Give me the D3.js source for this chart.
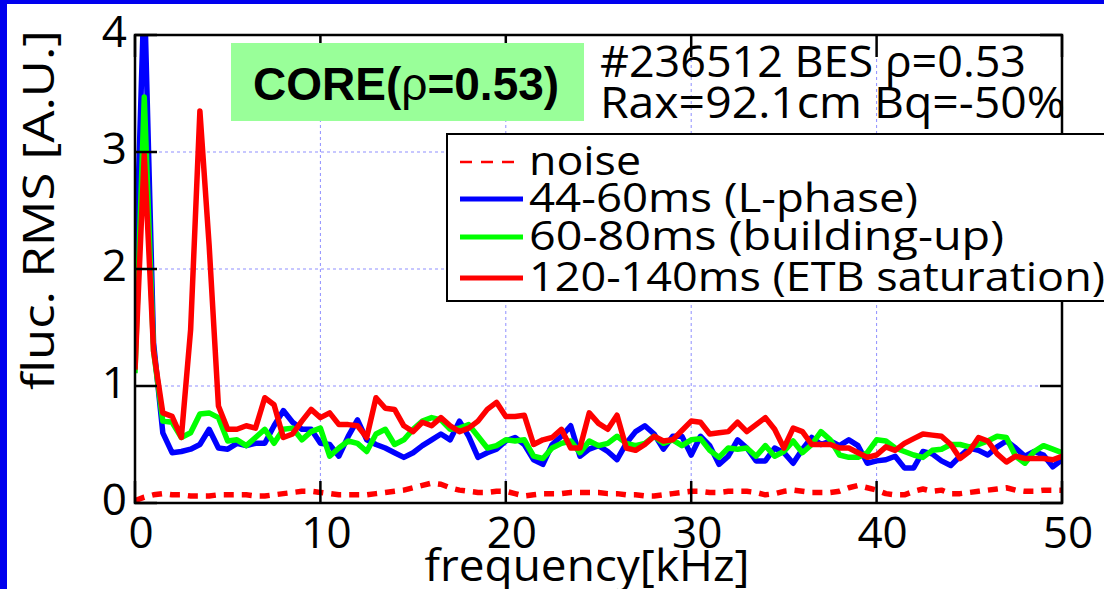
<!DOCTYPE html>
<html>
<head>
<meta charset="utf-8">
<script src="https://cdn.jsdelivr.net/npm/d3@7"></script>
<style>
    body { margin: 0; background: #ffffff; }
    svg { display: block; }
    .tick-label { font-family: "Open Sans", "Noto Sans", sans-serif; font-size: 44px; fill: #000; }
    .axis-label { font-family: "Open Sans", "Noto Sans", sans-serif; font-size: 44px; fill: #000; }
    .note-text { font-family: "Open Sans", "Noto Sans", sans-serif; font-size: 44px; fill: #000; }
    .legend-text { font-family: "Open Sans", "Noto Sans", sans-serif; font-size: 40px; fill: #000; }
    .core-text { font-family: "Liberation Sans", Arial, sans-serif; font-size: 46px; font-weight: bold; fill: #000; }
    .grid { stroke: #8f8fff; stroke-width: 1; stroke-dasharray: 3,3; fill: none; }
    .frame { stroke: #000; stroke-width: 2.5; fill: none; }
    .series { fill: none; stroke-width: 5.5; stroke-linejoin: round; }
</style>
</head>
<body>
<div id="chart"></div>
<script>

// **********************************************************
//                          Data
// **********************************************************

// frequency bins, 0.5 kHz apart from 0 to 50 kHz
const freq = d3.range(0, 50.25, 0.5);

const noise = [
    0.02, 0.05, 0.07, 0.08, 0.07, 0.07, 0.06, 0.06, 0.06, 0.07,
    0.07, 0.07, 0.07, 0.06, 0.06, 0.07, 0.08, 0.09, 0.10, 0.10,
    0.09, 0.08, 0.07, 0.07, 0.07, 0.07, 0.08, 0.09, 0.10, 0.11,
    0.13, 0.15, 0.17, 0.16, 0.13, 0.11, 0.10, 0.09, 0.09, 0.10,
    0.10, 0.08, 0.06, 0.07, 0.08, 0.08, 0.08, 0.09, 0.09, 0.09,
    0.09, 0.08, 0.08, 0.07, 0.07, 0.06, 0.06, 0.07, 0.08, 0.09,
    0.10, 0.10, 0.09, 0.09, 0.10, 0.10, 0.10, 0.09, 0.07, 0.08,
    0.10, 0.11, 0.10, 0.09, 0.09, 0.09, 0.10, 0.13, 0.15, 0.13,
    0.11, 0.08, 0.07, 0.07, 0.10, 0.12, 0.10, 0.11, 0.08, 0.08,
    0.09, 0.10, 0.11, 0.12, 0.13, 0.11, 0.10, 0.10, 0.11, 0.11,
    0.11
];

const lPhase = [
    1.78, 4.40, 1.37, 0.60, 0.43, 0.44, 0.46, 0.50, 0.63, 0.47,
    0.46, 0.51, 0.49, 0.51, 0.51, 0.66, 0.79, 0.69, 0.63, 0.63,
    0.51, 0.50, 0.40, 0.57, 0.71, 0.54, 0.50, 0.47, 0.43, 0.39,
    0.43, 0.49, 0.54, 0.59, 0.54, 0.70, 0.57, 0.39, 0.43, 0.46,
    0.53, 0.56, 0.50, 0.37, 0.33, 0.50, 0.57, 0.66, 0.40, 0.46,
    0.49, 0.44, 0.37, 0.51, 0.61, 0.66, 0.59, 0.46, 0.57, 0.57,
    0.41, 0.57, 0.49, 0.33, 0.40, 0.54, 0.47, 0.36, 0.36, 0.47,
    0.43, 0.34, 0.46, 0.56, 0.50, 0.53, 0.49, 0.54, 0.49, 0.34,
    0.36, 0.37, 0.40, 0.30, 0.30, 0.44, 0.42, 0.36, 0.32, 0.40,
    0.47, 0.45, 0.41, 0.48, 0.53, 0.47, 0.40, 0.44, 0.41, 0.31,
    0.37
];

const buildingUp = [
    1.11, 3.47, 1.30, 0.70, 0.69, 0.56, 0.60, 0.76, 0.77, 0.73,
    0.53, 0.54, 0.49, 0.56, 0.63, 0.51, 0.63, 0.64, 0.54, 0.61,
    0.64, 0.40, 0.47, 0.53, 0.51, 0.44, 0.59, 0.63, 0.50, 0.54,
    0.63, 0.70, 0.73, 0.71, 0.63, 0.64, 0.67, 0.57, 0.47, 0.49,
    0.54, 0.53, 0.54, 0.40, 0.38, 0.47, 0.51, 0.53, 0.43, 0.53,
    0.49, 0.51, 0.57, 0.51, 0.49, 0.51, 0.57, 0.51, 0.54, 0.49,
    0.54, 0.55, 0.45, 0.39, 0.47, 0.46, 0.47, 0.40, 0.49, 0.40,
    0.44, 0.53, 0.43, 0.50, 0.61, 0.54, 0.41, 0.39, 0.39, 0.43,
    0.54, 0.53, 0.47, 0.44, 0.41, 0.39, 0.45, 0.46, 0.50, 0.50,
    0.48, 0.50, 0.53, 0.57, 0.56, 0.40, 0.34, 0.44, 0.49, 0.46,
    0.43
];

const etbSaturation = [
    1.14, 2.98, 1.30, 0.77, 0.74, 0.56, 1.48, 3.35, 2.20, 0.83,
    0.63, 0.63, 0.66, 0.64, 0.90, 0.84, 0.56, 0.59, 0.70, 0.80,
    0.73, 0.77, 0.67, 0.67, 0.66, 0.56, 0.90, 0.81, 0.80, 0.66,
    0.61, 0.69, 0.66, 0.73, 0.66, 0.61, 0.64, 0.70, 0.80, 0.86,
    0.74, 0.74, 0.75, 0.50, 0.54, 0.56, 0.63, 0.47, 0.47, 0.77,
    0.68, 0.63, 0.75, 0.47, 0.45, 0.50, 0.57, 0.53, 0.54, 0.62,
    0.70, 0.69, 0.59, 0.60, 0.61, 0.69, 0.61, 0.67, 0.73, 0.63,
    0.47, 0.64, 0.61, 0.50, 0.50, 0.50, 0.47, 0.47, 0.43, 0.39,
    0.41, 0.48, 0.45, 0.51, 0.55, 0.59, 0.58, 0.57, 0.50, 0.38,
    0.44, 0.56, 0.53, 0.42, 0.35, 0.40, 0.38, 0.38, 0.38, 0.37,
    0.40
];

const xTicks = [0, 10, 20, 30, 40, 50];
const yTicks = [0, 1, 2, 3, 4];
const xGrid = [10, 20, 30, 40];
const yGrid = [1, 2, 3];

const seriesNames = ["noise", "44-60ms (L-phase)", "60-80ms (building-up)", "120-140ms (ETB saturation)"];
const seriesValues = [noise, lPhase, buildingUp, etbSaturation];
const seriesColors = ["#ff0000", "#0000ff", "#00ff00", "#ff0000"];
const seriesDashed = [true, false, false, false];


// **********************************************************
//                      Definitions
// **********************************************************

const width = 1104, height = 589;
const plot = { left: 135, right: 1062, top: 35, bottom: 503 };

const xScale = d3.scaleLinear()
    .domain([0, 50])
    .range([plot.left, plot.right]);

const yScale = d3.scaleLinear()
    .domain([0, 4])
    .range([plot.bottom, plot.top]);

const lineFunction = d3.line()
    .x((d) => xScale(d.f))
    .y((d) => yScale(d.v));

const tickLen = 22;


// **********************************************************
//                   Container for chart
// **********************************************************

const svg = d3.select("#chart")
    .append("svg")
    .attr("width", width)
    .attr("height", height);

svg.append("rect")
    .attr("width", width)
    .attr("height", height)
    .attr("fill", "#ffffff");

svg.append("clipPath")
    .attr("id", "plot-clip")
    .append("rect")
    .attr("x", plot.left)
    .attr("y", plot.top)
    .attr("width", plot.right - plot.left)
    .attr("height", plot.bottom - plot.top);


// **********************************************************
//                         Drawing
// **********************************************************

// dotted grid
svg.selectAll(".grid-x")
    .data(xGrid)
    .enter()
    .append("line")
    .attr("class", "grid")
    .attr("x1", (d) => xScale(d))
    .attr("x2", (d) => xScale(d))
    .attr("y1", plot.top)
    .attr("y2", plot.bottom);

svg.selectAll(".grid-y")
    .data(yGrid)
    .enter()
    .append("line")
    .attr("class", "grid")
    .attr("x1", plot.left)
    .attr("x2", plot.right)
    .attr("y1", (d) => yScale(d))
    .attr("y2", (d) => yScale(d));

// spectra, in plotting order
const lines = svg.append("g").attr("clip-path", "url(#plot-clip)");
seriesValues.forEach((vals, k) => {
    const pts = vals.map((v, i) => ({ f: freq[i], v: v }));
    const path = lines.append("path")
        .attr("class", "series")
        .attr("stroke", seriesColors[k])
        .attr("d", lineFunction(pts));
    if (seriesDashed[k]) path.attr("stroke-width", 2.5).attr("stroke-dasharray", "10,8");
});

// axes frame and inward ticks (both sides)
svg.append("rect")
    .attr("class", "frame")
    .attr("x", plot.left)
    .attr("y", plot.top)
    .attr("width", plot.right - plot.left)
    .attr("height", plot.bottom - plot.top);

xTicks.forEach((t) => {
    svg.append("line").attr("class", "frame")
        .attr("x1", xScale(t)).attr("x2", xScale(t))
        .attr("y1", plot.bottom).attr("y2", plot.bottom - tickLen);
    svg.append("line").attr("class", "frame")
        .attr("x1", xScale(t)).attr("x2", xScale(t))
        .attr("y1", plot.top).attr("y2", plot.top + tickLen);
});
yTicks.forEach((t) => {
    svg.append("line").attr("class", "frame")
        .attr("x1", plot.left).attr("x2", plot.left + tickLen)
        .attr("y1", yScale(t)).attr("y2", yScale(t));
    svg.append("line").attr("class", "frame")
        .attr("x1", plot.right - tickLen).attr("x2", plot.right)
        .attr("y1", yScale(t)).attr("y2", yScale(t));
});

// tick labels
svg.selectAll(".xlab")
    .data(xTicks)
    .enter()
    .append("text")
    .attr("class", "tick-label")
    .attr("text-anchor", "middle")
    .attr("x", (d) => xScale(d) + 6)
    .attr("y", 548)
    .text((d) => d);

svg.selectAll(".ylab")
    .data(yTicks)
    .enter()
    .append("text")
    .attr("class", "tick-label")
    .attr("text-anchor", "end")
    .attr("x", plot.left - 8)
    .attr("y", (d) => yScale(d) + 12)
    .text((d) => d);

// axis titles
svg.append("text")
    .attr("class", "axis-label")
    .attr("text-anchor", "middle")
    .attr("x", 587)
    .attr("y", 581)
    .attr("textLength", 325)
    .attr("lengthAdjust", "spacingAndGlyphs")
    .text("frequency[kHz]");

svg.append("text")
    .attr("class", "axis-label")
    .attr("text-anchor", "middle")
    .attr("transform", "translate(54,210) rotate(-90)")
    .attr("textLength", 360)
    .attr("lengthAdjust", "spacingAndGlyphs")
    .text("fluc. RMS [A.U.]");

// green CORE label
svg.append("rect")
    .attr("x", 231)
    .attr("y", 43)
    .attr("width", 353)
    .attr("height", 78)
    .attr("fill", "#99ff99");

const core = svg.append("text")
    .attr("class", "core-text")
    .attr("x", 253)
    .attr("y", 100);
core.append("tspan").text("CORE(");
core.append("tspan").attr("font-weight", "normal").text("ρ");
core.append("tspan").text("=0.53)");

// shot info
svg.append("text")
    .attr("class", "note-text")
    .attr("x", 600).attr("y", 77)
    .attr("textLength", 426)
    .attr("lengthAdjust", "spacingAndGlyphs")
    .text("#236512 BES ρ=0.53");

svg.append("text")
    .attr("class", "note-text")
    .attr("x", 600).attr("y", 118)
    .attr("textLength", 465)
    .attr("lengthAdjust", "spacingAndGlyphs")
    .text("Rax=92.1cm Bq=-50%");

// legend box, it runs past the right edge
const legendRowY = [162, 199, 237, 278];
const legendTextW = [112, 389, 475, 576];

svg.append("rect")
    .attr("x", 447)
    .attr("y", 134)
    .attr("width", 700)
    .attr("height", 167)
    .attr("fill", "#ffffff")
    .attr("stroke", "#000")
    .attr("stroke-width", 2);

seriesNames.forEach((name, k) => {
    const sample = svg.append("line")
        .attr("x1", 460).attr("x2", 523)
        .attr("y1", legendRowY[k]).attr("y2", legendRowY[k])
        .attr("stroke", seriesColors[k])
        .attr("stroke-width", 5);
    if (seriesDashed[k]) sample.attr("stroke-width", 2.5).attr("stroke-dasharray", "12,9");

    svg.append("text")
        .attr("class", "legend-text")
        .attr("x", 529)
        .attr("y", legendRowY[k] + 13)
        .attr("textLength", legendTextW[k])
        .attr("lengthAdjust", "spacingAndGlyphs")
        .text(name);
});

// blue slide border (top and left)
svg.append("rect").attr("x", 0).attr("y", 0).attr("width", width).attr("height", 4).attr("fill", "#0000ee");
svg.append("rect").attr("x", 0).attr("y", 0).attr("width", 7).attr("height", height).attr("fill", "#0000ee");

</script>
</body>
</html>
